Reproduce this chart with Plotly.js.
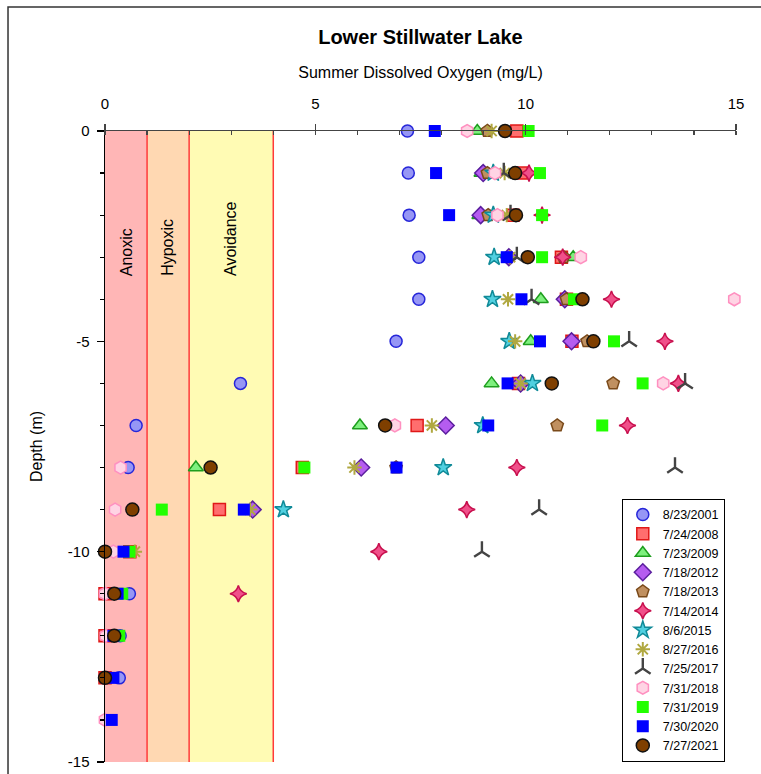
<!DOCTYPE html>
<html><head><meta charset="utf-8">
<script src="https://cdn.plot.ly/plotly-3.0.1.min.js"></script>
<style>html,body{margin:0;padding:0;background:#fff}</style>
</head><body>
<div id="chart" style="width:761px;height:774px"></div>
<script>
// ---- data ----
const seriesNames = ["8/23/2001","7/24/2008","7/23/2009","7/18/2012","7/18/2013","7/14/2014","8/6/2015","8/27/2016","7/25/2017","7/31/2018","7/31/2019","7/30/2020","7/27/2021"];

const depth2001 = [0,-1,-2,-3,-4,-5,-6,-7,-8,-11,-12,-13];
const do2001    = [7.19,7.21,7.23,7.46,7.46,6.92,3.22,0.74,0.55,0.58,0.36,0.34];

const depth2008 = [0,-1,-2,-3,-4,-5,-6,-7,-8,-9,-10,-11,-12,-13];
const do2008    = [9.79,9.9,9.7,10.85,10.97,11.1,9.83,7.42,4.69,2.72,0.59,0.0,0.0,0.0];

const depth2009 = [0,-1,-2,-3,-4,-5,-6,-7,-8];
const do2009    = [8.85,8.95,8.9,11.13,10.36,10.12,9.19,6.06,2.16];

const depth2012 = [-1,-2,-3,-4,-5,-6,-7,-8,-9];
const do2012    = [8.99,8.93,9.6,10.93,11.09,9.88,8.10,6.09,3.51];

const depth2013 = [0,-1,-2,-3,-4,-5,-6,-7,-8];
const do2013    = [9.09,9.09,9.11,10.9,10.97,11.46,12.08,10.75,6.92];

const depth2014 = [-1,-2,-3,-4,-5,-6,-7,-8,-9,-10,-11];
const do2014    = [10.08,10.39,10.88,12.04,13.31,13.63,12.42,9.79,8.60,6.51,3.17];

const depth2015 = [-1,-2,-3,-4,-5,-6,-7,-8,-9];
const do2015    = [9.23,9.23,9.25,9.21,9.61,10.16,8.98,8.04,4.24];

const depth2016 = [0,-1,-2,-3,-4,-5,-6,-7,-8,-9,-10];
const do2016    = [9.19,9.5,9.55,9.63,9.58,9.75,9.88,7.77,5.93,3.45,0.71];

const depth2017 = [-1,-2,-3,-4,-5,-6,-8,-9,-10];
const do2017    = [9.48,9.64,9.79,10.14,12.46,13.79,13.55,10.32,8.96];

const depth2018 = [0,-1,-2,-3,-4,-6,-7,-8,-9,-10,-11,-12,-14];
const do2018    = [8.61,9.27,9.33,11.31,14.96,13.27,6.89,0.37,0.24,0.2,0.0,0.02,0.0];

const depth2019 = [0,-1,-2,-3,-4,-5,-6,-7,-8,-9,-10,-11,-12];
const do2019    = [10.07,10.34,10.39,10.39,11.15,12.1,12.78,11.82,4.74,1.35,0.58,0.41,0.34];

const depth2020 = [0,-1,-2,-3,-4,-5,-6,-7,-8,-9,-10,-11,-12,-13,-14];
const do2020    = [7.84,7.87,8.18,9.55,9.9,10.34,9.57,9.11,6.93,3.30,0.44,0.3,0.2,0.2,0.16];

const depth2021 = [0,-1,-2,-3,-4,-5,-6,-7,-8,-9,-10,-11,-12,-13];
const do2021    = [9.51,9.75,9.77,10.05,11.35,11.61,10.62,6.66,2.51,0.65,0.0,0.22,0.22,0.0];

const bandEdges  = [0, 1, 2, 4];
const bandLabels = ["Anoxic", "Hypoxic", "Avoidance"];
const xTicks = [0, 5, 10, 15];
const yTicks = [0, -5, -10, -15];

// ---- styles ----
const allDepths = [depth2001,depth2008,depth2009,depth2012,depth2013,depth2014,depth2015,depth2016,depth2017,depth2018,depth2019,depth2020,depth2021];
const allDO     = [do2001,do2008,do2009,do2012,do2013,do2014,do2015,do2016,do2017,do2018,do2019,do2020,do2021];
const markerStyles = [
  {symbol:"circle", size:12, color:"#9696F5", line:{color:"#2626D9", width:1.5}},
  {symbol:"square", size:12, color:"#FF6E6E", line:{color:"#E01818", width:1.5}},
  {symbol:"triangle-up", size:13, color:"#7EF07E", line:{color:"#1E9E1E", width:1.5}},
  {symbol:"diamond", size:13, color:"#B55CF0", line:{color:"#5A1E9E", width:1.5}},
  {symbol:"pentagon", size:13, color:"#C09060", line:{color:"#7A4A1A", width:1.5}},
  {symbol:"star-diamond", size:12, color:"#F0508A", line:{color:"#C8104E", width:1.5}},
  {symbol:"star", size:13, color:"#50D0E0", line:{color:"#108A98", width:1.5}},
  {symbol:"asterisk-open", size:12, color:"#B0A840", line:{color:"#B0A840", width:2}},
  {symbol:"y-up-open", size:13, color:"#444444", line:{color:"#444444", width:2.4}},
  {symbol:"hexagon", size:13, color:"#FFD4E4", line:{color:"#FF90C0", width:1.5}},
  {symbol:"square", size:12, color:"#22FF00", line:{color:"#22FF00", width:0}},
  {symbol:"square", size:12, color:"#0000FF", line:{color:"#0000FF", width:0}},
  {symbol:"circle", size:13, color:"#7F3F00", line:{color:"#111111", width:1.5}}
];

const traces = seriesNames.map((name, i) => ({
  type: "scatter", mode: "markers", name: name,
  x: allDO[i], y: allDepths[i],
  marker: markerStyles[i], cliponaxis: false
}));

const bandFills = ["#FFB6B6", "#FFD8B2", "#FFFBB4"];
const shapes = [];
for (let i = 0; i < bandLabels.length; i++) {
  shapes.push({type:"rect", xref:"x", yref:"paper", x0:bandEdges[i], x1:bandEdges[i+1], y0:0, y1:1,
    fillcolor:bandFills[i], line:{width:0}, layer:"below"});
}
for (let i = 1; i < bandEdges.length; i++) {
  shapes.push({type:"line", xref:"x", yref:"paper", x0:bandEdges[i], x1:bandEdges[i], y0:0, y1:1,
    line:{color:"#FF3A3A", width:1.5}, layer:"below"});
}
// outer frame
shapes.push({type:"rect", xref:"paper", yref:"paper", x0:-0.1537, x1:1.1, y0:-0.1, y1:1.1965,
  line:{color:"#333", width:1.5}, fillcolor:"rgba(0,0,0,0)", layer:"above"});

const annotations = bandLabels.map((t, i) => ({
  text: t, xref:"x", yref:"y", x:(bandEdges[i]+bandEdges[i+1])/2, y:-3.5,
  textangle:-90, xanchor:"center", yanchor:"bottom", showarrow:false,
  font:{size:16, color:"#000", family:"Liberation Sans, Arial, sans-serif"}
}));

const font = "Liberation Sans, Arial, sans-serif";
const layout = {
  width:761, height:774,
  margin:{l:105, r:25, t:131, b:12},
  paper_bgcolor:"#fff", plot_bgcolor:"#fff",
  font:{family:font, color:"#000"},
  title:{text:"<b>Lower Stillwater Lake</b>", x:0.5525, xref:"container", y:1-37/774, yref:"container",
    xanchor:"center", yanchor:"middle", font:{size:20, family:font, color:"#000"}},
  xaxis:{side:"top", range:[0,15], tickvals:xTicks, ticktext:xTicks.map(String),
    ticks:"outside", ticklen:6, tickwidth:1.2, tickcolor:"#444",
    minor:{dtick:1, ticks:"inside", ticklen:4, tickcolor:"#444", showgrid:false},
    showline:true, linecolor:"#444", linewidth:1.5, zeroline:false, showgrid:false,
    tickfont:{size:15}, ticklabelstandoff:9,
    title:{text:"Summer Dissolved Oxygen (mg/L)", font:{size:16}, standoff:12}},
  yaxis:{range:[-15,0], tickvals:yTicks, ticktext:yTicks.map(String),
    ticks:"outside", ticklen:7, tickwidth:1.2, tickcolor:"#000",
    minor:{dtick:1, ticks:"outside", ticklen:4, tickcolor:"#000", showgrid:false},
    showline:true, linecolor:"#000", linewidth:1.5, zeroline:false, showgrid:false,
    tickfont:{size:15}, ticklabelstandoff:4,
    title:{text:"Depth (m)", font:{size:16}, standoff:21}},
  legend:{x:0.819, y:0.417, xanchor:"left", yanchor:"top", bgcolor:"#fff",
    bordercolor:"#000", borderwidth:1, font:{size:12.5, family:font}, traceorder:"normal"},
  shapes: shapes,
  annotations: annotations,
  showlegend:true
};

Plotly.newPlot("chart", traces, layout, {displayModeBar:false, staticPlot:true});
</script>
</body></html>
